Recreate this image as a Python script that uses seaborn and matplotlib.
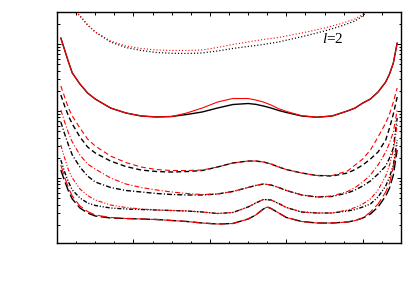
import matplotlib
matplotlib.use("Agg")
import matplotlib.pyplot as plt
import seaborn as sns
import numpy as np
from matplotlib.ticker import MultipleLocator, LogLocator, NullFormatter

# ---------------- data ----------------
x_grid = [0.05, 0.1, 0.15, 0.2, 0.3, 0.4, 0.5, 0.7, 0.9, 1.1, 1.3, 1.5, 1.7, 1.9,
          2.1, 2.3, 2.5, 2.6, 2.7, 2.8, 2.9, 3.0, 3.2, 3.4, 3.6, 3.8, 3.9, 4.0,
          4.1, 4.2, 4.3, 4.35, 4.4, 4.45]

solid_black = [1.229, 0.8135, 0.5384, 0.3688, 0.2526, 0.1854, 0.1508, 0.1107, 0.09335,
               0.0842, 0.08135, 0.0827, 0.0887, 0.0966, 0.1107, 0.1248, 0.1292, 0.1256,
               0.1186, 0.1107, 0.1016, 0.095, 0.0842, 0.0806, 0.0842, 0.100, 0.1107,
               0.1314, 0.1508, 0.1919, 0.2706, 0.3563, 0.5202, 1.035]
solid_red = [1.229, 0.8135, 0.5384, 0.3688, 0.2526, 0.1854, 0.1508, 0.1107, 0.09335,
             0.0842, 0.08135, 0.0827, 0.0934, 0.1107, 0.136, 0.1534, 0.1534, 0.1457,
             0.136, 0.1227, 0.108, 0.0985, 0.085, 0.0806, 0.0842, 0.100, 0.1107,
             0.1314, 0.1508, 0.1919, 0.2706, 0.3563, 0.5202, 1.035]

x_dot = [0.2, 0.25, 0.3, 0.4, 0.5, 0.7, 0.9, 1.1, 1.3, 1.5, 1.7, 1.9, 2.1, 2.3, 2.5,
         2.7, 2.9, 3.1, 3.3, 3.5, 3.7, 3.9, 4.0, 4.05, 4.1]
dot_black = [4.09, 3.006, 2.62, 1.923, 1.511, 1.071, 0.887, 0.800, 0.7465, 0.726,
             0.7213, 0.7337, 0.786, 0.8567, 0.9177, 0.983, 1.071, 1.208, 1.363,
             1.564, 1.826, 2.206, 2.62, 3.006, 3.57]
dot_red = [4.09, 3.006, 2.62, 1.923, 1.511, 1.109, 0.9335, 0.8567, 0.8135, 0.800,
           0.800, 0.8135, 0.887, 0.983, 1.071, 1.168, 1.25, 1.387, 1.537, 1.734,
           1.99, 2.363, 2.76, 3.11, 3.69]

dash_black = [0.1731, 0.1186, 0.0842, 0.0639, 0.0409, 0.029, 0.0236, 0.0179, 0.01483,
              0.01314, 0.01248, 0.01227, 0.01248, 0.01292, 0.01457, 0.01672, 0.01791,
              0.01791, 0.01731, 0.01616, 0.01457, 0.01337, 0.01186, 0.01088, 0.01069,
              0.01186, 0.01337, 0.01561, 0.01919, 0.02441, 0.03688, 0.05572, 0.09019,
              0.1616]
dash_red = [0.2358, 0.1616, 0.1107, 0.0842, 0.05572, 0.03817, 0.030, 0.02127, 0.01701,
            0.01457, 0.01337, 0.01292, 0.01292, 0.01314, 0.01457, 0.01672, 0.01791,
            0.01791, 0.01731, 0.01616, 0.01457, 0.01337, 0.01186, 0.01088, 0.01088,
            0.0127, 0.01561, 0.01919, 0.02615, 0.0409, 0.06618, 0.09019, 0.136, 0.2202]

dashdot_black = [0.06849, 0.04533, 0.03105, 0.02202, 0.01457, 0.01069, 0.008714,
                 0.007213, 0.006506, 0.006178, 0.005867, 0.005669, 0.005572, 0.005572,
                 0.005767, 0.006285, 0.007213, 0.007727, 0.008135, 0.00786, 0.007213,
                 0.006506, 0.005572, 0.005202, 0.005293, 0.005969, 0.006618, 0.007594,
                 0.009019, 0.01145, 0.01508, 0.01986, 0.02801, 0.0786]
dashdot_red = [0.1033, 0.06849, 0.04692, 0.03443, 0.02202, 0.01616, 0.0136, 0.010,
               0.008135, 0.007213, 0.006618, 0.006178, 0.005867, 0.005669, 0.005767,
               0.006285, 0.007213, 0.007727, 0.008135, 0.00786, 0.007213, 0.006506,
               0.005572, 0.005202, 0.005384, 0.006285, 0.007213, 0.008714, 0.01107,
               0.01561, 0.02441, 0.03326, 0.04856, 0.1033]

dashdotdot_black = [0.01854, 0.01227, 0.008714, 0.006618, 0.005026, 0.004232, 0.003884,
                    0.003563, 0.003443, 0.003384, 0.003326, 0.00327, 0.003214, 0.003105,
                    0.00295, 0.003052, 0.003688, 0.004232, 0.004774, 0.004692, 0.00416,
                    0.003625, 0.003105, 0.003, 0.003, 0.003214, 0.003384, 0.003688,
                    0.004089, 0.005202, 0.007594, 0.01033, 0.01561, 0.03688]
dashdotdot_red = [0.03105, 0.01986, 0.01314, 0.010, 0.006849, 0.005478, 0.004692,
                  0.00395, 0.003625, 0.003443, 0.003326, 0.00327, 0.003214, 0.003105,
                  0.00295, 0.003052, 0.003688, 0.004232, 0.004774, 0.004692, 0.00416,
                  0.003625, 0.003105, 0.003, 0.003, 0.003326, 0.003625, 0.004089,
                  0.004856, 0.006618, 0.01069, 0.01561, 0.02615, 0.06178]

x_long = [0.05, 0.1, 0.15, 0.2, 0.3, 0.4, 0.5, 0.7, 0.9, 1.1, 1.3, 1.5, 1.7, 1.9,
          2.1, 2.3, 2.5, 2.6, 2.7, 2.75, 2.8, 2.9, 3.0, 3.2, 3.4, 3.6, 3.8, 3.9, 4.0,
          4.1, 4.2, 4.3, 4.35, 4.4, 4.45]
longdash_black = [0.01314, 0.009019, 0.006394, 0.004856, 0.003563, 0.003, 0.002706,
                  0.002526, 0.002483, 0.002441, 0.0024, 0.002318, 0.00224, 0.002127,
                  0.002055, 0.002091, 0.002441, 0.002801, 0.003443, 0.003688, 0.003503,
                  0.003, 0.002571, 0.00224, 0.002127, 0.002127, 0.002202, 0.002318,
                  0.002526, 0.002899, 0.003688, 0.005384, 0.007089, 0.01107, 0.02615]
longdash_red = [0.01561, 0.01033, 0.007089, 0.005384, 0.003817, 0.003159, 0.002801,
                0.002571, 0.002483, 0.002441, 0.0024, 0.002318, 0.00224, 0.002127,
                0.002055, 0.002091, 0.002441, 0.002801, 0.003443, 0.003688, 0.003503,
                0.003, 0.002571, 0.00224, 0.002127, 0.002127, 0.002202, 0.002318,
                0.002526, 0.003105, 0.004089, 0.006178, 0.00842, 0.01457, 0.03105]

label_text = r"$l$=2"

# ---------------- figure ----------------
sns.set_theme(style="ticks")
plt.rcParams["font.family"] = ["Liberation Serif", "DejaVu Serif"]
plt.rcParams["mathtext.fontset"] = "custom"
plt.rcParams["mathtext.rm"] = "Liberation Serif"
plt.rcParams["mathtext.it"] = "Liberation Serif:italic"
plt.rcParams["lines.scale_dashes"] = False

fig = plt.figure(figsize=(4.09, 2.92), dpi=100)
ax = fig.add_axes([57 / 409, 49 / 292, 344 / 409, 231 / 292])
ax.set_facecolor("white")

series = [
    (x_dot, dot_black, "black", 0.9, (0, (0.8, 1.5))),
    (x_dot, dot_red, "red", 0.8, (0, (0.8, 1.5))),
    (x_grid, solid_black, "black", 1.0, "-"),
    (x_grid, solid_red, "red", 0.8, "-"),
    (x_grid, dash_black, "black", 1.0, (0, (3.6, 2.2))),
    (x_grid, dash_red, "red", 0.8, (0, (3.6, 2.2))),
    (x_grid, dashdot_black, "black", 1.0, (0, (3.6, 1.5, 0.8, 1.5))),
    (x_grid, dashdot_red, "red", 0.8, (0, (3.6, 1.5, 0.8, 1.5))),
    (x_grid, dashdotdot_black, "black", 1.0, (0, (3.0, 1.3, 0.8, 1.3, 0.8, 1.3))),
    (x_grid, dashdotdot_red, "red", 0.8, (0, (3.0, 1.3, 0.8, 1.3, 0.8, 1.3))),
    (x_long, longdash_black, "black", 1.0, (0, (7.0, 2.5))),
    (x_long, longdash_red, "red", 0.8, (0, (7.0, 2.5))),
]
for xs, ys, col, lw, ls in series:
    sns.lineplot(x=xs, y=ys, color=col, linewidth=lw, linestyle=ls,
                 sort=False, estimator=None, ax=ax)

ax.set_yscale("log")
ax.set_xlim(0, 4.5)
ax.set_ylim(1.07e-3, 3.0)
ax.xaxis.set_major_locator(MultipleLocator(1))
ax.xaxis.set_minor_locator(MultipleLocator(0.25))
ax.yaxis.set_major_locator(LogLocator(base=10, numticks=10))
ax.yaxis.set_minor_locator(LogLocator(base=10, subs=np.arange(2, 10), numticks=20))
ax.yaxis.set_minor_formatter(NullFormatter())
ax.tick_params(which="both", direction="in", top=True, right=True,
               labelbottom=False, labelleft=False, colors="black", width=0.7)
ax.tick_params(which="major", length=3.2)
ax.tick_params(which="minor", length=1.8)
for sp in ax.spines.values():
    sp.set_color("black")
    sp.set_linewidth(1.0)

ax.text(3.61, 1.17, label_text, ha="center", va="center", fontsize=11,
        color="black")

fig.savefig("out.png", dpi=100, facecolor="white")
